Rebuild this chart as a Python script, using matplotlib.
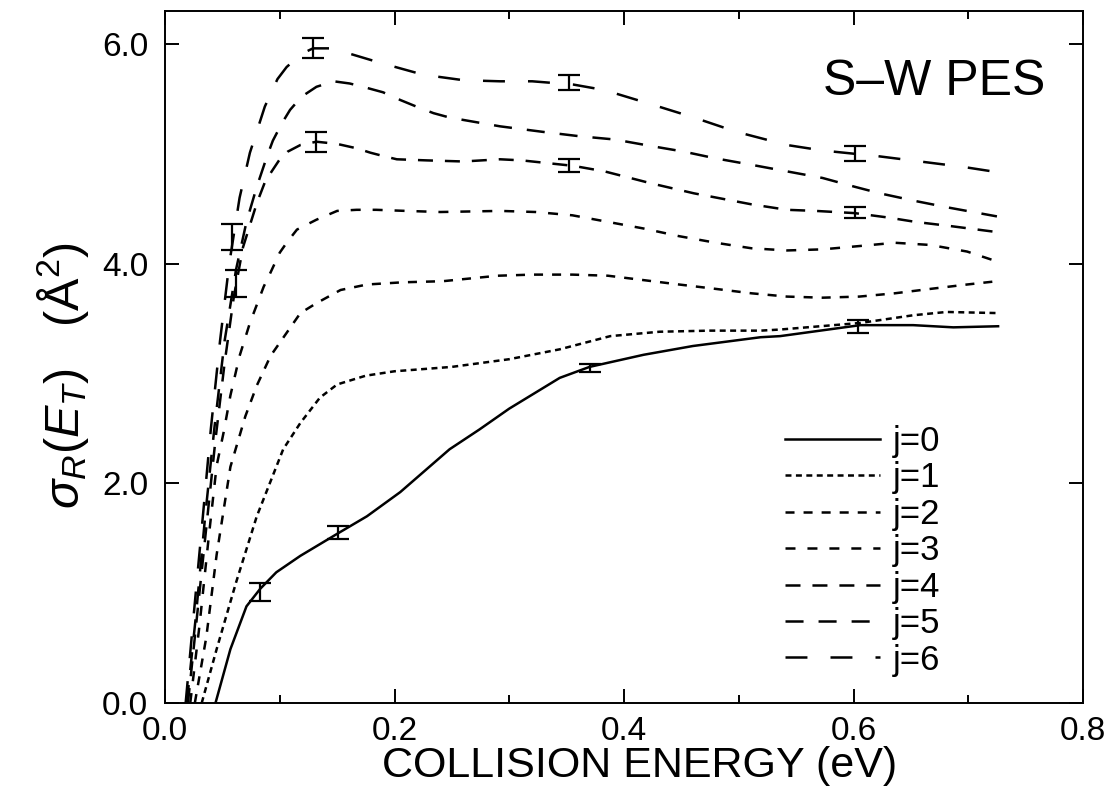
import numpy as np
import matplotlib
matplotlib.use("Agg")
import matplotlib.pyplot as plt

plt.rcParams['font.family'] = ['Liberation Sans', 'DejaVu Sans']
plt.rcParams['mathtext.fontset'] = 'custom'
plt.rcParams['mathtext.rm'] = 'Liberation Sans'
plt.rcParams['mathtext.it'] = 'Liberation Sans:italic'
plt.rcParams['lines.scale_dashes'] = False

# curves: collision energy (eV), sigma_R (A^2)
x_j0 = [0.044, 0.057, 0.071, 0.083, 0.097, 0.118, 0.150, 0.176, 0.205, 0.248, 0.274, 0.300,
        0.344, 0.370, 0.417, 0.460, 0.519, 0.536, 0.606, 0.652, 0.687, 0.726]
y_j0 = [0.00, 0.49, 0.88, 1.04, 1.19, 1.34, 1.54, 1.70, 1.92, 2.31, 2.49, 2.68,
        2.96, 3.06, 3.17, 3.25, 3.33, 3.34, 3.44, 3.44, 3.42, 3.43]

x_j1 = [0.032, 0.045, 0.062, 0.080, 0.103, 0.118, 0.135, 0.150, 0.175, 0.200, 0.250, 0.300,
        0.344, 0.388, 0.431, 0.475, 0.519, 0.536, 0.606, 0.652, 0.681, 0.725]
y_j1 = [0.00, 0.49, 1.10, 1.70, 2.31, 2.55, 2.78, 2.90, 2.98, 3.02, 3.06, 3.13,
        3.22, 3.34, 3.38, 3.39, 3.39, 3.40, 3.46, 3.53, 3.56, 3.55]

x_j2 = [0.026, 0.036, 0.045, 0.057, 0.070, 0.080, 0.092, 0.106, 0.118, 0.132, 0.153, 0.176,
        0.207, 0.242, 0.290, 0.320, 0.355, 0.386, 0.417, 0.448, 0.480, 0.511, 0.542, 0.573,
        0.605, 0.636, 0.667, 0.699, 0.725]
y_j2 = [0.00, 0.60, 1.35, 2.15, 2.61, 2.89, 3.16, 3.37, 3.55, 3.64, 3.76, 3.81,
        3.83, 3.84, 3.89, 3.90, 3.90, 3.89, 3.85, 3.81, 3.77, 3.73, 3.70, 3.69,
        3.70, 3.73, 3.77, 3.81, 3.84]

x_j3 = [0.022, 0.030, 0.038, 0.045, 0.051, 0.057, 0.065, 0.074, 0.086, 0.092, 0.100, 0.106,
        0.115, 0.132, 0.150, 0.167, 0.184, 0.210, 0.240, 0.292, 0.323, 0.355, 0.386, 0.417,
        0.448, 0.480, 0.511, 0.542, 0.573, 0.605, 0.636, 0.667, 0.699, 0.725]
y_j3 = [0.00, 0.70, 1.50, 2.16, 2.46, 2.80, 3.16, 3.46, 3.79, 3.92, 4.10, 4.19,
        4.31, 4.40, 4.48, 4.49, 4.49, 4.48, 4.47, 4.48, 4.47, 4.44, 4.38, 4.32,
        4.25, 4.19, 4.14, 4.12, 4.13, 4.16, 4.19, 4.17, 4.11, 4.02]

x_j4 = [0.020, 0.028, 0.036, 0.044, 0.052, 0.060, 0.068, 0.080, 0.087, 0.093, 0.100, 0.107,
        0.118, 0.132, 0.150, 0.167, 0.179, 0.190, 0.202, 0.228, 0.260, 0.292, 0.311, 0.356,
        0.383, 0.424, 0.461, 0.486, 0.511, 0.542, 0.567, 0.601, 0.630, 0.654, 0.686, 0.723]
y_j4 = [0.00, 0.80, 1.60, 2.40, 3.10, 3.70, 4.15, 4.55, 4.74, 4.84, 4.95, 5.02,
        5.08, 5.11, 5.09, 5.05, 5.01, 4.98, 4.95, 4.94, 4.93, 4.95, 4.94, 4.89,
        4.84, 4.73, 4.64, 4.59, 4.54, 4.49, 4.48, 4.46, 4.42, 4.38, 4.34, 4.29]

x_j5 = [0.019, 0.027, 0.035, 0.043, 0.052, 0.062, 0.071, 0.080, 0.089, 0.094, 0.102, 0.109,
        0.119, 0.132, 0.147, 0.161, 0.176, 0.190, 0.205, 0.219, 0.234, 0.248, 0.292, 0.329,
        0.361, 0.392, 0.424, 0.452, 0.479, 0.511, 0.542, 0.573, 0.601, 0.623, 0.654, 0.683,
        0.725]
y_j5 = [0.00, 0.80, 1.70, 2.50, 3.30, 3.95, 4.38, 4.70, 4.98, 5.12, 5.28, 5.40,
        5.52, 5.61, 5.66, 5.64, 5.60, 5.56, 5.49, 5.43, 5.37, 5.33, 5.25, 5.20,
        5.16, 5.13, 5.07, 5.02, 4.96, 4.90, 4.84, 4.78, 4.70, 4.64, 4.57, 4.51,
        4.43]

x_j6 = [0.018, 0.025, 0.033, 0.040, 0.048, 0.056, 0.065, 0.074, 0.087, 0.098, 0.106, 0.119,
        0.129, 0.144, 0.155, 0.187, 0.225, 0.260, 0.292, 0.320, 0.356, 0.383, 0.424, 0.461,
        0.498, 0.542, 0.573, 0.601, 0.620, 0.658, 0.696, 0.727]
y_j6 = [0.00, 0.80, 1.70, 2.50, 3.30, 4.00, 4.60, 5.01, 5.43, 5.68, 5.79, 5.91,
        5.96, 5.96, 5.93, 5.83, 5.72, 5.67, 5.66, 5.66, 5.63, 5.58, 5.45, 5.33,
        5.20, 5.08, 5.03, 5.00, 4.98, 4.93, 4.88, 4.83]

# error bars (x, y, half height)
err_x = [0.129, 0.352, 0.601, 0.132, 0.352, 0.601, 0.083, 0.151, 0.370, 0.604, 0.058, 0.062]
err_y = [5.96, 5.65, 5.00, 5.11, 4.89, 4.47, 1.01, 1.55, 3.05, 3.43, 4.24, 3.82]
err_h = [0.09, 0.07, 0.07, 0.09, 0.06, 0.05, 0.08, 0.06, 0.04, 0.06, 0.12, 0.12]

labels = ['j=0', 'j=1', 'j=2', 'j=3', 'j=4', 'j=5', 'j=6']
dashes = [None, (4.3, 3.2), (6.5, 6.5), (7.2, 8.6), (10.8, 8.6), (13, 10.8), (15.8, 16.6)]

fig = plt.figure(figsize=(11.09, 7.93), dpi=100)
ax = fig.add_axes([165/1109, 90/793, 918/1109, 692/793])

series = [(x_j0, y_j0), (x_j1, y_j1), (x_j2, y_j2), (x_j3, y_j3),
          (x_j4, y_j4), (x_j5, y_j5), (x_j6, y_j6)]
handles = []
for (xs, ys), lab, d in zip(series, labels, dashes):
    ln, = ax.plot(xs, ys, color='black', lw=1.8, label=lab)
    if d is not None:
        ln.set_dashes(d)
    handles.append(ln)

ax.errorbar(err_x, err_y, yerr=err_h, fmt='none', ecolor='black',
            elinewidth=1.6, capsize=8, capthick=1.6)

ax.set_xlim(0, 0.8)
ax.set_ylim(0, 6.3)
ax.set_xticks([0.0, 0.2, 0.4, 0.6, 0.8])
ax.set_xticklabels(['0.0', '0.2', '0.4', '0.6', '0.8'])
ax.set_xticks([0.1, 0.3, 0.5, 0.7], minor=True)
ax.set_yticks([0, 2, 4, 6])
ax.set_yticklabels(['0.0', '2.0', '4.0', '6.0'])
ax.tick_params(which='both', direction='in', top=True, right=True, width=1.4, labelsize=24)
ax.tick_params(which='major', length=10)
ax.tick_params(which='minor', length=6)
ax.tick_params(axis='x', pad=9)
ax.tick_params(axis='y', pad=12)
for s in ax.spines.values():
    s.set_linewidth(1.4)

ax.set_xlabel('COLLISION ENERGY (eV)', fontsize=31, labelpad=0)
ax.xaxis.label.set_x(0.517)
ax.set_ylabel(r'$\sigma_R(E_T)$   (Å$^2$)', fontsize=35, labelpad=8)
ax.yaxis.label.set_y(0.474)

ax.text(0.959, 0.879, 'S–W PES', transform=ax.transAxes, ha='right', va='baseline',
        fontsize=36)

ax.legend(handles=handles, loc='upper left', bbox_to_anchor=(0.675, 0.402),
          frameon=False, fontsize=25, handlelength=2.74, handletextpad=0.37,
          labelspacing=0.1, borderpad=0, borderaxespad=0)

fig.savefig('out.png', dpi=100)
